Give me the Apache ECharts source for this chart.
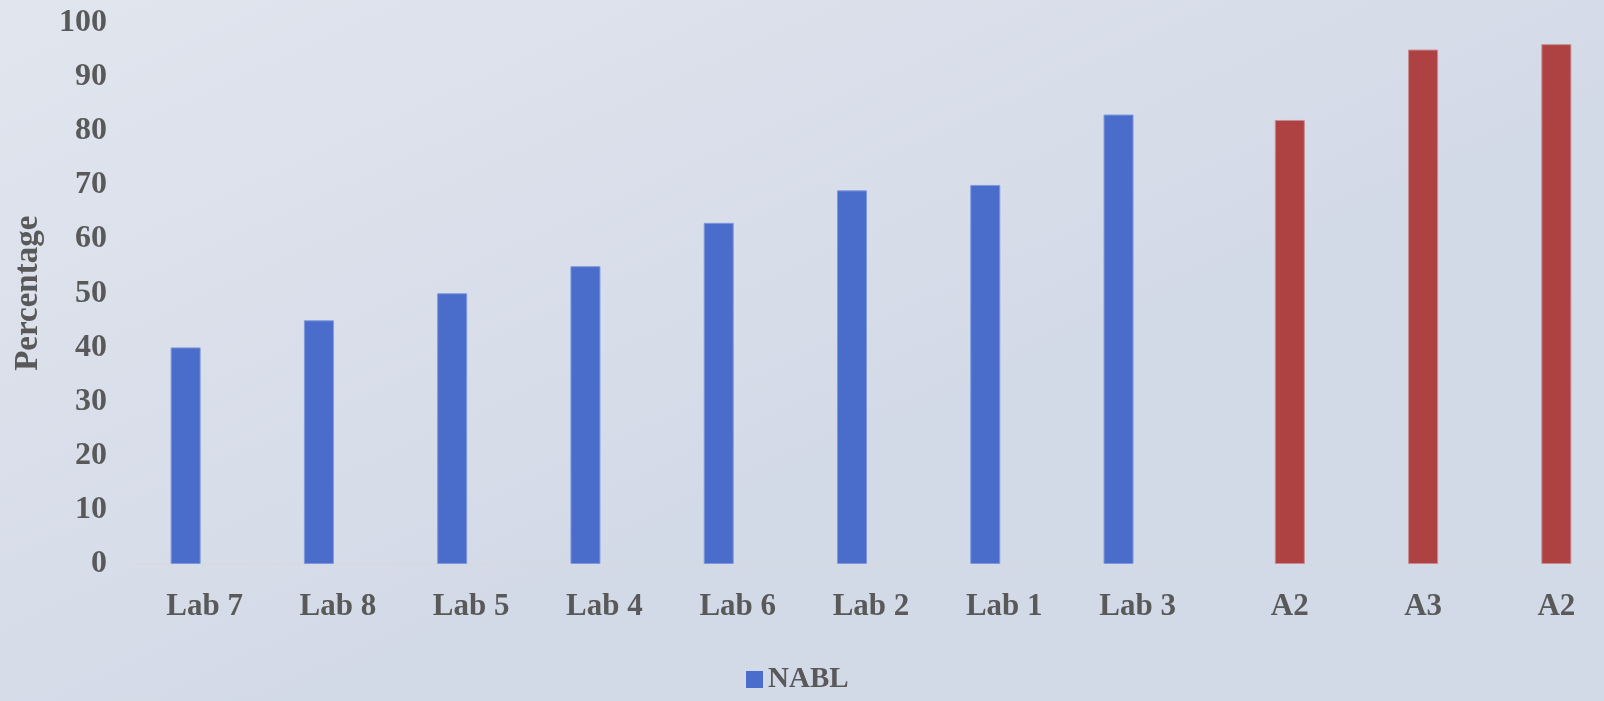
<!DOCTYPE html>
<html>
<head>
<meta charset="utf-8">
<script src="https://cdn.jsdelivr.net/npm/echarts@6/dist/echarts.min.js"></script>
<style>
html,body{margin:0;padding:0;}
#chart{width:1604px;height:701px;}
</style>
</head>
<body>
<div id="chart"></div>
<script>
const categories = ['Lab 7','Lab 8','Lab 5','Lab 4','Lab 6','Lab 2','Lab 1','Lab 3','A2','A3','A2'];
const nablValues = [40,45,50,55,63,69,70,83,'-','-','-'];
const otherValues = ['-','-','-','-','-','-','-','-',82,95,96];
const yTicks = [0,10,20,30,40,50,60,70,80,90,100];

const textColor = '#595959';
const fontFam = '"Liberation Serif", "DejaVu Serif", serif';

const chart = echarts.init(document.getElementById('chart'));
chart.setOption({
  backgroundColor: {
    type: 'linear', x: 0, y: 0, x2: 0.2, y2: 1,
    colorStops: [{offset: 0, color: '#e1e5ee'}, {offset: 1, color: '#d3dae7'}]
  },
  animation: false,
  legend: {
    data: ['NABL'],
    bottom: 2,
    left: 741,
    itemWidth: 17,
    itemHeight: 17,
    itemGap: 10,
    icon: 'rect',
    itemStyle: {borderWidth: 0},
    textStyle: {color: textColor, fontFamily: fontFam, fontWeight: 'bold', fontSize: 29}
  },
  grid: {left: 138, right: 0, top: 22.5, bottom: 137, containLabel: false},
  xAxis: {
    type: 'category',
    data: categories,
    axisLine: {show: true, lineStyle: {color: '#d6d9de', width: 1.5}},
    axisTick: {show: false},
    axisLabel: {
      color: textColor, fontFamily: fontFam, fontWeight: 'bold', fontSize: 31,
      margin: 27, interval: 0,
      formatter: function (v, i) { return i >= 8 ? '{a|' + v + '}' : v; },
      rich: {a: {padding: [0, 0, 0, 38], color: textColor, fontFamily: fontFam, fontWeight: 'bold', fontSize: 31}}
    },
    splitLine: {show: false}
  },
  yAxis: {
    type: 'value',
    min: 0, max: 100, interval: 10,
    name: 'Percentage',
    nameLocation: 'middle',
    nameGap: 93,
    nameTextStyle: {color: textColor, fontFamily: fontFam, fontWeight: 'bold', fontSize: 33},
    axisLine: {show: false},
    axisTick: {show: false},
    splitLine: {show: false},
    axisLabel: {
      color: textColor, fontFamily: fontFam, fontWeight: 'bold', fontSize: 32, margin: 31,
      formatter: function (v) { return yTicks.indexOf(v) >= 0 ? String(v) : ''; }
    }
  },
  series: [
    {
      name: 'NABL', type: 'bar', data: nablValues, barWidth: 30, barGap: '26.7%',
      itemStyle: {color: '#4A6CCA', borderColor: '#7f98dc', borderWidth: 1}
    },
    {
      name: 'Other', type: 'bar', data: otherValues, barWidth: 30, barGap: '26.7%',
      itemStyle: {color: '#AE4141', borderColor: '#c98a8e', borderWidth: 1}
    }
  ]
});
</script>
</body>
</html>
